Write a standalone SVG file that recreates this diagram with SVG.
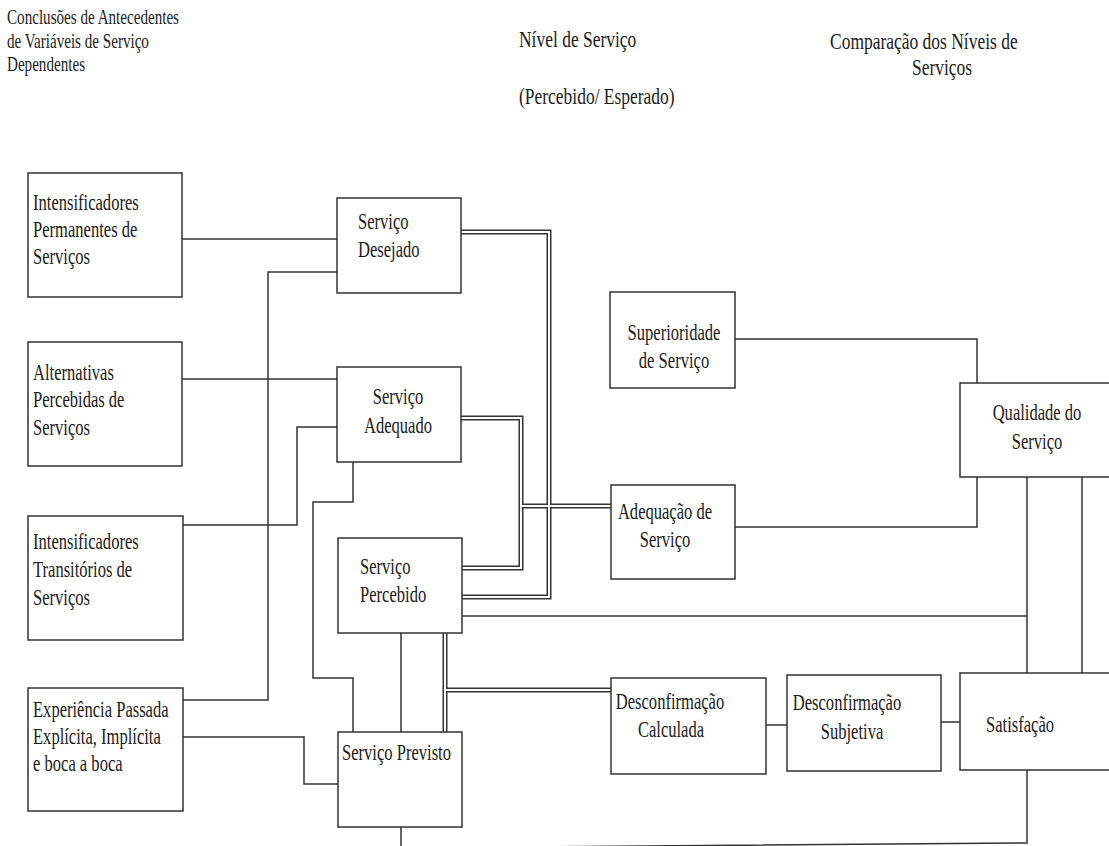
<svg xmlns="http://www.w3.org/2000/svg" width="1109" height="846" viewBox="0 0 1109 846">
  <style>
    .box { fill: #ffffff; stroke: #333333; stroke-width: 1.5; }
    .wire { fill: none; stroke: #333333; stroke-width: 1.5; }
    .dbl-out { fill: none; stroke: #333333; stroke-width: 5; stroke-linejoin: miter; }
    .dbl-in { fill: none; stroke: #ffffff; stroke-width: 2; stroke-linejoin: miter; }
    text { font-family: "Liberation Serif", "Times New Roman", serif; fill: #1a1a1a; }
    .t { font-size: 23px; }
    .h { font-size: 21px; }
    .hm { font-size: 23px; }
    .c { text-anchor: middle; }
  </style>
  <defs>
    <path id="d1" d="M461,232 H549 V597 H462"/>
    <path id="d2" d="M461,418 H521 V568 H462"/>
    <path id="d3" d="M521,506 H611"/>
    <path id="d4" d="M445,633 V732"/>
    <path id="d5" d="M445,690 H611"/>
  </defs>
  <rect width="1109" height="846" fill="#ffffff"/>

  <!-- column headings -->
  <g id="headings">
    <text class="h" transform="matrix(0.72,0,0,1,7,24)">Conclusões de Antecedentes</text>
    <text class="h" transform="matrix(0.72,0,0,1,7,48)">de Variáveis de Serviço</text>
    <text class="h" transform="matrix(0.72,0,0,1,7,71)">Dependentes</text>
    <text class="hm" transform="matrix(0.76,0,0,1,519,47)">Nível de Serviço</text>
    <text class="hm" transform="matrix(0.76,0,0,1,519,104)">(Percebido/ Esperado)</text>
    <text class="hm" transform="matrix(0.76,0,0,1,830,49)">Comparação dos Níveis de</text>
    <text class="hm c" transform="matrix(0.76,0,0,1,942,75)">Serviços</text>
  </g>

  <!-- connectors -->
  <g id="connectors">
    <path class="wire" d="M182,239 H337"/>
    <path class="wire" d="M183,700 H268 V272 H337"/>
    <path class="wire" d="M182,379 H337"/>
    <path class="wire" d="M183,525 H297 V427 H337"/>
    <path class="wire" d="M183,737 H304 V784 H338"/>
    <path class="wire" d="M353,462 V502 H313 V678 H353 V732"/>
    <path class="wire" d="M401,633 V732"/>
    <path class="wire" d="M401,827 V846"/>
    <path class="wire" d="M1027,770 V843 L401,848"/>
    <path class="wire" d="M462,616 H1027"/>
    <path class="wire" d="M1027,477 V673"/>
    <path class="wire" d="M1082,477 V673"/>
    <path class="wire" d="M735,339 H977 V383"/>
    <path class="wire" d="M735,527 H977 V477"/>
    <path class="wire" d="M766,725 H787"/>
    <path class="wire" d="M941,722 H960"/>
    <!-- double lines: dark outer stroke with a white core -->
    <use href="#d1" class="dbl-out"/>
    <use href="#d2" class="dbl-out"/>
    <use href="#d3" class="dbl-out"/>
    <use href="#d4" class="dbl-out"/>
    <use href="#d5" class="dbl-out"/>
    <use href="#d1" class="dbl-in"/>
    <use href="#d2" class="dbl-in"/>
    <use href="#d3" class="dbl-in"/>
    <use href="#d4" class="dbl-in"/>
    <use href="#d5" class="dbl-in"/>
  </g>

  <g id="int-permanentes">
    <rect class="box" x="28" y="173" width="154" height="124"/>
    <text class="t" transform="matrix(0.72,0,0,1,33,210)">Intensificadores</text>
    <text class="t" transform="matrix(0.72,0,0,1,33,237)">Permanentes de</text>
    <text class="t" transform="matrix(0.72,0,0,1,33,264)">Serviços</text>
  </g>
  <g id="alternativas">
    <rect class="box" x="28" y="342" width="154" height="124"/>
    <text class="t" transform="matrix(0.72,0,0,1,33,380)">Alternativas</text>
    <text class="t" transform="matrix(0.72,0,0,1,33,407)">Percebidas de</text>
    <text class="t" transform="matrix(0.72,0,0,1,33,435)">Serviços</text>
  </g>
  <g id="int-transitorios">
    <rect class="box" x="28" y="516" width="155" height="124"/>
    <text class="t" transform="matrix(0.72,0,0,1,33,549)">Intensificadores</text>
    <text class="t" transform="matrix(0.72,0,0,1,33,577)">Transitórios de</text>
    <text class="t" transform="matrix(0.72,0,0,1,33,605)">Serviços</text>
  </g>
  <g id="experiencia">
    <rect class="box" x="28" y="688" width="155" height="123"/>
    <text class="t" transform="matrix(0.72,0,0,1,33,717)">Experiência Passada</text>
    <text class="t" transform="matrix(0.72,0,0,1,33,744)">Explícita, Implícita</text>
    <text class="t" transform="matrix(0.72,0,0,1,33,771)">e boca a boca</text>
  </g>

  <g id="servico-desejado">
    <rect class="box" x="337" y="198" width="124" height="95"/>
    <text class="t" transform="matrix(0.72,0,0,1,358,229)">Serviço</text>
    <text class="t" transform="matrix(0.72,0,0,1,358,257)">Desejado</text>
  </g>
  <g id="servico-adequado">
    <rect class="box" x="337" y="367" width="124" height="95"/>
    <text class="t c" transform="matrix(0.72,0,0,1,398,404)">Serviço</text>
    <text class="t c" transform="matrix(0.72,0,0,1,398,433)">Adequado</text>
  </g>
  <g id="servico-percebido">
    <rect class="box" x="338" y="538" width="124" height="95"/>
    <text class="t" transform="matrix(0.72,0,0,1,360,574)">Serviço</text>
    <text class="t" transform="matrix(0.72,0,0,1,360,602)">Percebido</text>
  </g>
  <g id="servico-previsto">
    <rect class="box" x="338" y="732" width="124" height="95"/>
    <text class="t" transform="matrix(0.72,0,0,1,342,760)">Serviço Previsto</text>
  </g>

  <g id="superioridade">
    <rect class="box" x="610" y="292" width="125" height="96"/>
    <text class="t c" transform="matrix(0.72,0,0,1,674,340)">Superioridade</text>
    <text class="t c" transform="matrix(0.72,0,0,1,674,368)">de Serviço</text>
  </g>
  <g id="adequacao">
    <rect class="box" x="611" y="485" width="124" height="94"/>
    <text class="t c" transform="matrix(0.72,0,0,1,665,519)">Adequação de</text>
    <text class="t c" transform="matrix(0.72,0,0,1,665,547)">Serviço</text>
  </g>
  <g id="desconf-calculada">
    <rect class="box" x="611" y="678" width="155" height="96"/>
    <text class="t c" transform="matrix(0.72,0,0,1,670,709)">Desconfirmação</text>
    <text class="t c" transform="matrix(0.72,0,0,1,671,737)">Calculada</text>
  </g>
  <g id="desconf-subjetiva">
    <rect class="box" x="787" y="675" width="154" height="96"/>
    <text class="t c" transform="matrix(0.72,0,0,1,847,710)">Desconfirmação</text>
    <text class="t c" transform="matrix(0.72,0,0,1,852,739)">Subjetiva</text>
  </g>
  <g id="qualidade">
    <rect class="box" x="960" y="383" width="160" height="94"/>
    <text class="t c" transform="matrix(0.72,0,0,1,1037,420)">Qualidade do</text>
    <text class="t c" transform="matrix(0.72,0,0,1,1037,449)">Serviço</text>
  </g>
  <g id="satisfacao">
    <rect class="box" x="960" y="673" width="160" height="97"/>
    <text class="t c" transform="matrix(0.72,0,0,1,1020,732)">Satisfação</text>
  </g>
</svg>
